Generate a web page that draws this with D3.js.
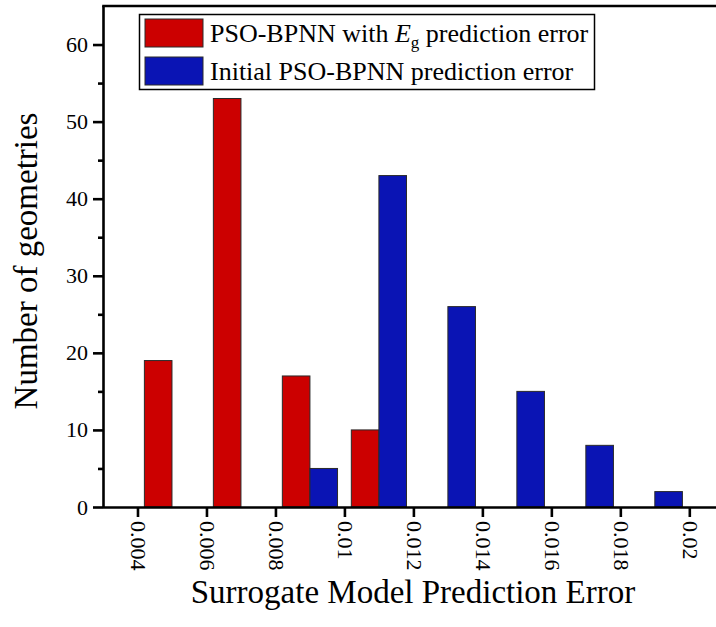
<!DOCTYPE html>
<html>
<head>
<meta charset="utf-8">
<script src="https://cdnjs.cloudflare.com/ajax/libs/d3/7.8.5/d3.min.js"></script>
<style>
  html, body { margin: 0; padding: 0; background: #fff; }
  svg { display: block; }
  svg text { font-family: "Liberation Serif", "Times New Roman", serif !important; fill: #000; }
</style>
</head>
<body>
<svg id="chart" width="716" height="627"></svg>
<script>
// ---- data ----
const binCenters = [0.005, 0.007, 0.009, 0.011, 0.013, 0.015, 0.017, 0.019];
const eg = [19, 53, 17, 10, 0, 0, 0, 0];       // PSO-BPNN with Eg prediction error
const initial = [0, 0, 5, 43, 26, 15, 8, 2];   // Initial PSO-BPNN prediction error
const xTicks = [0.004, 0.006, 0.008, 0.01, 0.012, 0.014, 0.016, 0.018, 0.02];
const xTickLabels = ["0.004", "0.006", "0.008", "0.01", "0.012", "0.014", "0.016", "0.018", "0.02"];
const yTicks = [0, 10, 20, 30, 40, 50, 60];
const yMinorTicks = [5, 15, 25, 35, 45, 55];
const seriesNames = ["eg", "initial"];
const seriesColors = ["#CC0000", "#0A14B4"];

// ---- layout ----
const FONT = '"Liberation Serif", "Times New Roman", serif';
const svg = d3.select("#chart");
const plotLeft = 103, plotBottom = 507, plotTop = 6, plotRight = 723.8;
const x = d3.scaleLinear().domain([0.003, 0.021]).range([plotLeft, plotRight]);
const y = d3.scaleLinear().domain([0, 65]).range([plotBottom, plotTop]);
const barW = 0.0008;

// bars
const series = [eg, initial];
series.forEach((vals, si) => {
  svg.append("g").selectAll("rect")
    .data(binCenters.map((c, i) => ({c, v: vals[i]})).filter(d => d.v > 0))
    .join("rect")
    .attr("x", d => si === 0 ? x(d.c - barW) : x(d.c))
    .attr("width", d => x(d.c + barW) - x(d.c))
    .attr("y", d => y(d.v))
    .attr("height", d => y(0) - y(d.v))
    .attr("fill", seriesColors[si])
    .attr("stroke", "#2a2a2a")
    .attr("stroke-width", 1);
});

// x axis
const xAxis = svg.append("g").attr("transform", `translate(0,${plotBottom})`)
  .call(d3.axisBottom(x).tickValues(xTicks).tickSize(10).tickPadding(4)
        .tickFormat((d, i) => xTickLabels[i]));
xAxis.attr("font-family", null).style("font-family", FONT);
xAxis.select(".domain").attr("stroke", "#000").attr("stroke-width", 2.6)
  .attr("d", `M${plotLeft},0.5H716`);
xAxis.selectAll(".tick line").attr("stroke", "#000").attr("stroke-width", 2.6);
xAxis.selectAll(".tick text")
  .style("font-size", "22px")
  .style("font-family", FONT)
  .attr("text-anchor", "start")
  .attr("transform", "rotate(90)")
  .attr("x", 14).attr("y", 0).attr("dy", "0.33em");

// y axis
const yAxis = svg.append("g").attr("transform", `translate(${plotLeft},0)`)
  .call(d3.axisLeft(y).tickValues(yTicks).tickSize(10).tickPadding(5));
yAxis.attr("font-family", null).style("font-family", FONT);
yAxis.select(".domain").attr("stroke", "#000").attr("stroke-width", 2.6)
  .attr("d", `M0.5,${plotBottom}V${plotTop}`);
yAxis.selectAll(".tick line").attr("stroke", "#000").attr("stroke-width", 2.6);
yAxis.selectAll(".tick text").style("font-size", "22px").style("font-family", FONT);

const yMinor = svg.append("g").attr("transform", `translate(${plotLeft},0)`)
  .call(d3.axisLeft(y).tickValues(yMinorTicks).tickSize(5).tickFormat(""));
yMinor.select(".domain").remove();
yMinor.selectAll(".tick line").attr("stroke", "#000").attr("stroke-width", 2.6);

// top frame
svg.append("line").attr("x1", plotLeft - 0.8).attr("x2", 716)
  .attr("y1", plotTop).attr("y2", plotTop)
  .attr("stroke", "#000").attr("stroke-width", 2.6);

// axis titles
svg.append("text").attr("x", 413).attr("y", 603)
  .attr("text-anchor", "middle").style("font-size", "33px")
  .text("Surrogate Model Prediction Error");
svg.append("text").attr("transform", "translate(37,261) rotate(-90)")
  .attr("text-anchor", "middle").style("font-size", "33px")
  .text("Number of geometries");

// legend
const lg = svg.append("g");
lg.append("rect").attr("x", 139.5).attr("y", 14.5).attr("width", 455).attr("height", 75)
  .attr("fill", "#fff").attr("stroke", "#000").attr("stroke-width", 1.5);
const rowY = [19, 57];
seriesNames.forEach((s, i) => {
  lg.append("rect").attr("x", 145).attr("y", rowY[i]).attr("width", 58).attr("height", 28)
    .attr("fill", seriesColors[i]).attr("stroke", "#2a2a2a").attr("stroke-width", 1);
});
const t1 = lg.append("text").attr("x", 210).attr("y", 42).style("font-size", "26px");
t1.append("tspan").text("PSO-BPNN with ");
t1.append("tspan").attr("font-style", "italic").text("E");
t1.append("tspan").style("font-size", "17px").attr("dy", 6).text("g");
t1.append("tspan").attr("dy", -6).text(" prediction error");
lg.append("text").attr("x", 210).attr("y", 80).style("font-size", "26px")
  .text("Initial PSO-BPNN prediction error");
</script>
</body>
</html>
